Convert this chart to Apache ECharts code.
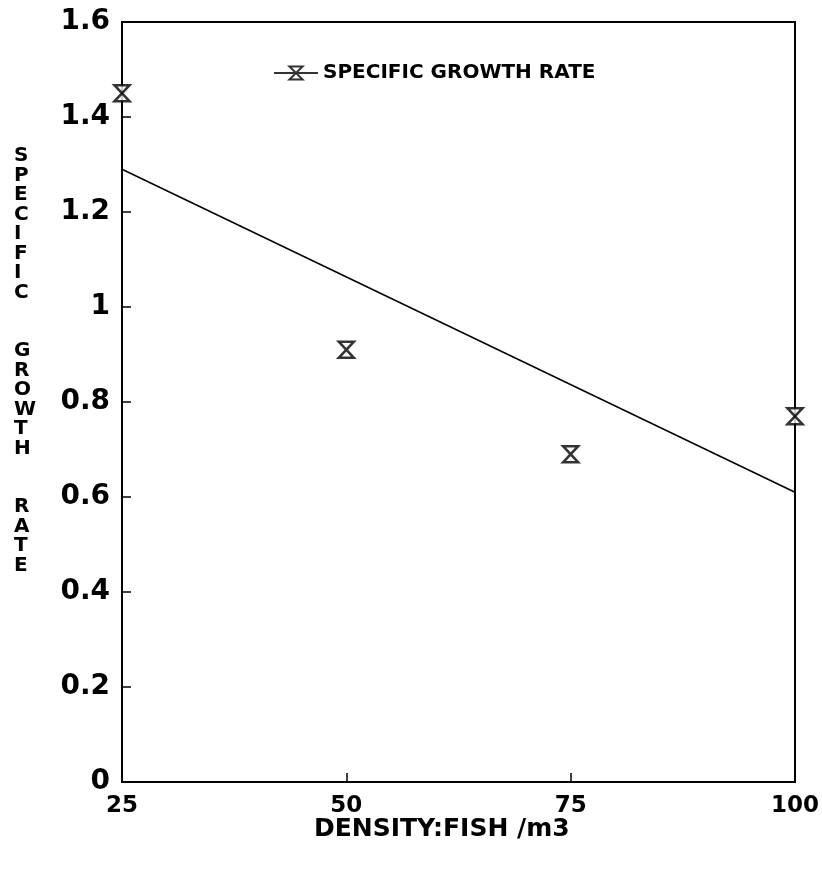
<!DOCTYPE html>
<html>
<head>
<meta charset="utf-8">
<script src="https://cdn.jsdelivr.net/npm/echarts@6/dist/echarts.min.js"></script>
<style>
html,body{margin:0;padding:0;background:#fff;}
#chart{width:822px;height:870px;}
</style>
</head>
<body>
<div id="chart"></div>
<script>
// Data
var densities = [25, 50, 75, 100];
var growthRates = [1.45, 0.91, 0.69, 0.77];
var trendX = [25, 100];
var trendY = [1.29, 0.61];
var seriesName = 'SPECIFIC GROWTH RATE';
var xTitle = 'DENSITY:FISH /m3';
var yTitleWords = ['SPECIFIC', 'GROWTH', 'RATE'];

var pointData = densities.map(function (d, i) { return [d, growthRates[i]]; });
var trendData = trendX.map(function (d, i) { return [d, trendY[i]]; });

var hourglass = 'path://M0,0 L10,0 L0,10 L10,10 Z';
var legendIcon = 'path://M0,6 L40,6 M14,0 L26,0 L14,12 L26,12 Z';

var yTitleText = yTitleWords.map(function (w) { return w.split('').join('\n'); }).join('\n\n\n');

var FONT = '"DejaVu Sans", "Liberation Sans", Arial, sans-serif';

var chart = echarts.init(document.getElementById('chart'), null, {renderer: 'canvas'});
chart.setOption({
  backgroundColor: '#fff',
  animation: false,
  grid: {
    left: 122, right: 22, top: 22, bottom: 88,
    show: true, borderColor: '#000', borderWidth: 2, backgroundColor: 'transparent'
  },
  legend: {
    left: 268, top: 58,
    itemWidth: 44, itemHeight: 14, itemGap: 10,
    data: [{name: seriesName, icon: legendIcon}],
    itemStyle: {color: 'transparent', borderColor: '#000', borderWidth: 2},
    lineStyle: {width: 0},
    textStyle: {fontFamily: FONT, fontWeight: 'bold', fontSize: 20, color: '#000'}
  },
  xAxis: {
    type: 'value', min: 25, max: 100, interval: 25,
    axisLine: {show: true, lineStyle: {color: '#000', width: 2}},
    axisTick: {show: true, inside: true, length: 9, lineStyle: {color: '#000', width: 1.5}},
    splitLine: {show: false},
    axisLabel: {fontFamily: FONT, fontWeight: 'bold', fontSize: 23, color: '#000', margin: 13}
  },
  yAxis: {
    type: 'value', min: 0, max: 1.6, interval: 0.2,
    axisLine: {show: true, lineStyle: {color: '#000', width: 2}},
    axisTick: {show: true, inside: true, length: 9, lineStyle: {color: '#000', width: 1.5}},
    splitLine: {show: false},
    axisLabel: {fontFamily: FONT, fontWeight: 'bold', fontSize: 28, color: '#000', margin: 12}
  },
  graphic: [
    {
      type: 'text', left: 14, top: 146,
      style: {
        text: yTitleText, fontFamily: FONT, fontWeight: 'bold', fontSize: 20,
        lineHeight: 19.5, fill: '#000', align: 'center'
      }
    },
    {
      type: 'text', left: 314, top: 817,
      style: {
        text: xTitle, fontFamily: FONT, fontWeight: 'bold', fontSize: 25, fill: '#000'
      }
    }
  ],
  series: [
    {
      name: 'trend', type: 'line', data: trendData,
      showSymbol: false, symbol: 'none', silent: true,
      lineStyle: {color: '#000', width: 1.5},
      z: 2
    },
    {
      name: seriesName, type: 'scatter', data: pointData,
      symbol: hourglass, symbolSize: [15, 16], clip: false,
      itemStyle: {color: '#fff', borderColor: '#000', borderWidth: 2.5},
      z: 3
    }
  ]
});
</script>
</body>
</html>
